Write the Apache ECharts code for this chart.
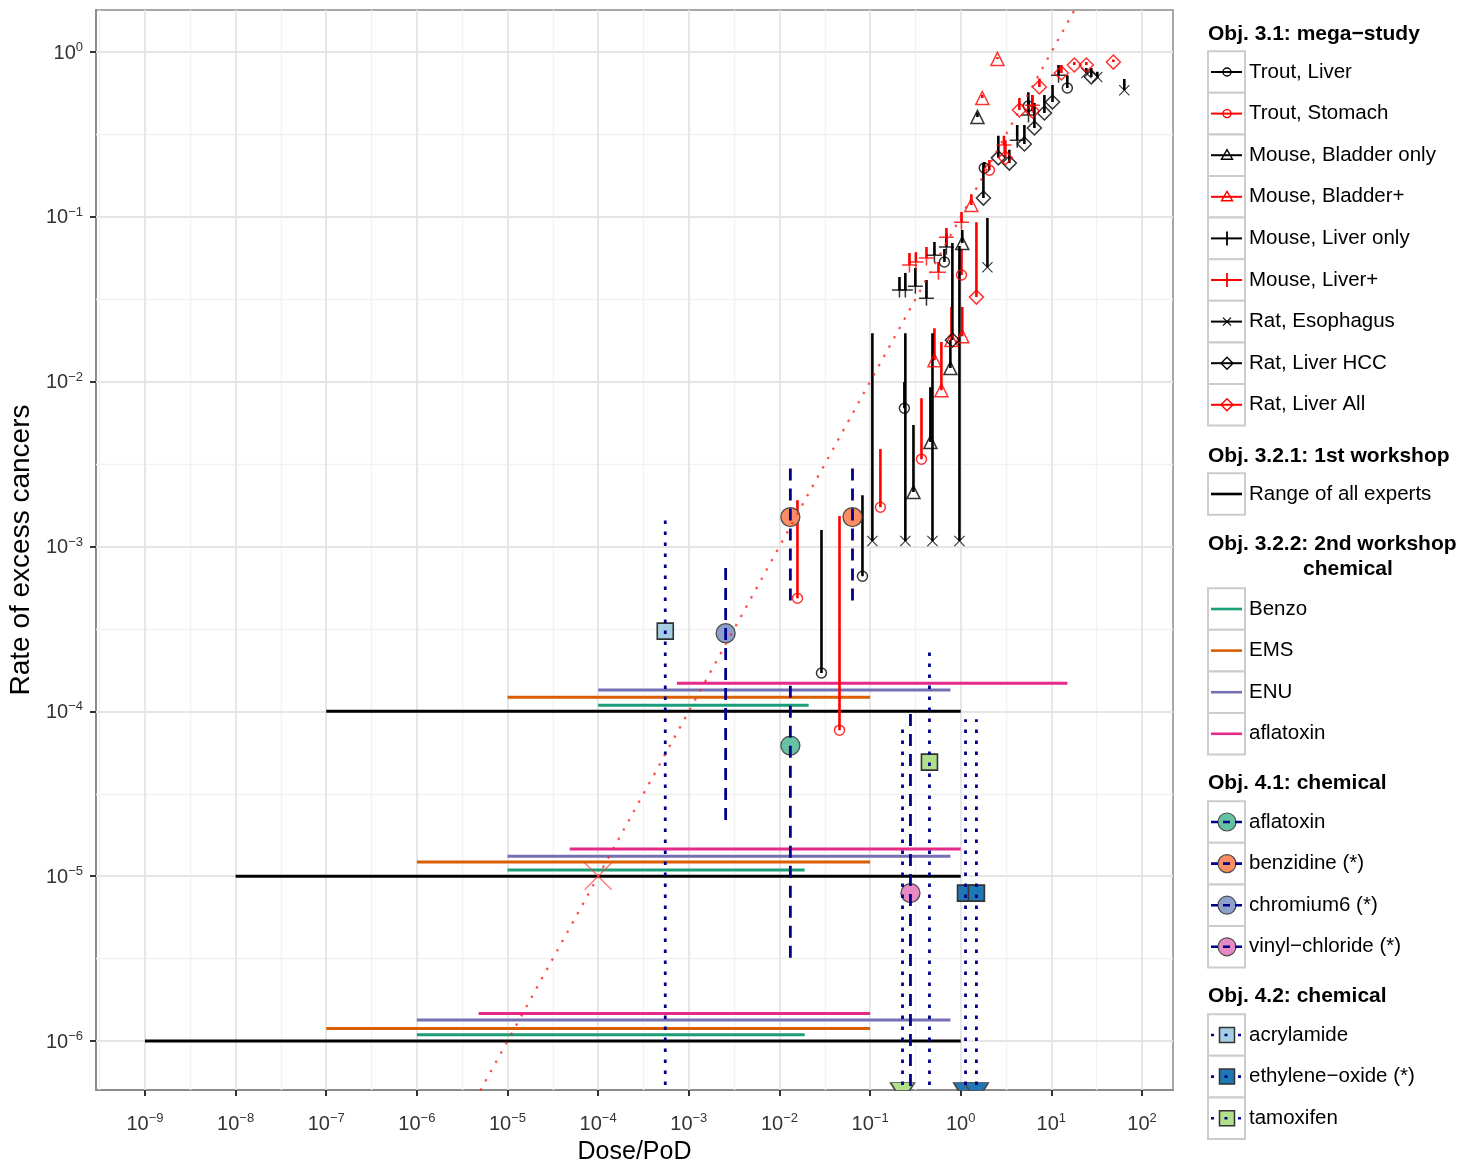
<!DOCTYPE html>
<html>
<head>
<meta charset="utf-8">
<title>Rate of excess cancers vs Dose/PoD</title>
<script src="https://cdn.jsdelivr.net/npm/echarts@6.0.0/dist/echarts.min.js"></script>
<style>
html,body{margin:0;padding:0;background:#ffffff;}
#chart{width:1460px;height:1163px;}
</style>
</head>
<body>
<div id="chart"></div>
<script>
// ---------------- tick labels (exponents of ten) ----------------
const xTickExponents = [-9, -8, -7, -6, -5, -4, -3, -2, -1, 0, 1, 2];
const yTickExponents = [-6, -5, -4, -3, -2, -1, 0];
const xMinorExponents = [-9.5, -8.5, -7.5, -6.5, -5.5, -4.5, -3.5, -2.5, -1.5, -0.5, 0.5, 1.5];
const yMinorExponents = [-5.5, -4.5, -3.5, -2.5, -1.5, -0.5];

// ---------------- Obj. 3.1: mega-study (dose, lower rate = marker, upper rate) ----------------
const troutLiverDose = [0.0291, 0.0824, 0.239, 0.661, 1.82, 5.57, 15.0];
const troutLiverLo   = [1.71e-4, 6.6e-4, 6.9e-3, 0.0532, 0.198, 0.470, 0.605];
const troutLiverHi   = [1.26e-3, 2.05e-3, 9.95e-3, 0.0638, 0.215, 0.571, 0.724];

const troutStomachDose = [0.0158, 0.046, 0.130, 0.369, 1.02, 2.07];
const troutStomachLo   = [4.86e-4, 7.69e-5, 1.73e-3, 3.39e-3, 0.0444, 0.192];
const troutStomachHi   = [1.91e-3, 1.53e-3, 3.9e-3, 7.94e-3, 0.0630, 0.221];

const mouseBladderDose = [0.301, 0.463, 0.769, 1.04, 1.53];
const mouseBladderLo   = [2.14e-3, 4.3e-3, 0.0121, 0.0693, 0.404];
const mouseBladderHi   = [5.46e-3, 9.27e-3, 0.0179, 0.0832, 0.43];

const mouseBladderPlusDose = [0.513, 0.612, 0.79, 1.04, 1.31, 1.73, 2.54];
const mouseBladderPlusLo   = [0.0135, 8.89e-3, 0.0179, 0.0189, 0.118, 0.526, 0.908];
const mouseBladderPlusHi   = [0.0211, 0.0174, 0.0284, 0.0284, 0.137, 0.55, 0.93];

const mouseLiverDose = [0.211, 0.245, 0.316, 0.419, 0.513, 0.695, 4.2, 5.6, 12.0];
const mouseLiverLo   = [0.036, 0.036, 0.038, 0.0321, 0.0586, 0.0656, 0.292, 0.415, 0.724];
const mouseLiverHi   = [0.0432, 0.0456, 0.0489, 0.0414, 0.0703, 0.0798, 0.361, 0.51, 0.834];

const mouseLiverPlusDose = [0.272, 0.32, 0.419, 0.568, 0.695, 1.02, 3.0, 6.17];
const mouseLiverPlusLo   = [0.0511, 0.0532, 0.0562, 0.0462, 0.0753, 0.0929, 0.273, 0.476];
const mouseLiverPlusHi   = [0.0603, 0.0611, 0.0656, 0.0532, 0.0855, 0.107, 0.31, 0.548];

const ratEsophagusDose = [0.106, 0.245, 0.488, 0.968, 1.97, 24.3, 32.1, 63.8];
const ratEsophagusLo   = [1.08e-3, 1.08e-3, 1.08e-3, 1.08e-3, 0.0495, 0.746, 0.705, 0.587];
const ratEsophagusHi   = [0.0197, 0.0197, 0.0197, 0.0665, 0.0984, 0.80, 0.76, 0.686];

const ratLiverHccDose = [0.809, 1.78, 2.6, 3.44, 5.04, 6.50, 8.38, 10.3, 27.6];
const ratLiverHccLo   = [0.0179, 0.130, 0.228, 0.212, 0.277, 0.346, 0.427, 0.498, 0.705];
const ratLiverHccHi   = [0.0693, 0.212, 0.31, 0.255, 0.361, 0.491, 0.548, 0.631, 0.80];

const ratLiverAllDose = [1.49, 3.11, 4.44, 6.17, 7.38, 12.9, 17.9, 24.3, 48.3];
const ratLiverAllLo   = [0.0326, 0.228, 0.445, 0.439, 0.614, 0.746, 0.834, 0.834, 0.869];
const ratLiverAllHi   = [0.0929, 0.292, 0.526, 0.548, 0.69, 0.834, 0.87, 0.87, 0.90];

// ---------------- Obj. 3.2.1: 1st workshop (range of all experts) ----------------
const expertRate   = [1e-4, 1e-5, 1e-6];
const expertDoseLo = [1e-7, 1e-8, 1e-9];
const expertDoseHi = [1, 1, 1];

// ---------------- Obj. 3.2.2: 2nd workshop ----------------
const benzoRate = [1.09e-4, 1.09e-5, 1.09e-6];
const benzoLo   = [1e-4, 1e-5, 1e-6];
const benzoHi   = [0.021, 0.019, 0.019];
const emsRate = [1.22e-4, 1.22e-5, 1.19e-6];
const emsLo   = [1e-5, 1e-6, 1e-7];
const emsHi   = [0.1, 0.1, 0.1];
const enuRate = [1.35e-4, 1.32e-5, 1.34e-6];
const enuLo   = [1e-4, 1e-5, 1e-6];
const enuHi   = [0.77, 0.77, 0.77];
const aflaWsRate = [1.48e-4, 1.46e-5, 1.47e-6];
const aflaWsLo   = [7.4e-4, 4.85e-5, 4.8e-6];
const aflaWsHi   = [15, 1, 0.1];

// ---------------- Obj. 4.1: chemical (point, range low, range high) ----------------
const BELOW = 1e-7; // range continues below the bottom of the axis
const aflatoxinDose = [0.0132];        const aflatoxinRate = [6.2e-5];
const aflatoxinLo = [3.2e-6];          const aflatoxinHi = [1.59e-4];
const benzidineDose = [0.0132, 0.064]; const benzidineRate = [1.51e-3, 1.51e-3];
const benzidineLo = [4.7e-4, 4.7e-4];  const benzidineHi = [3.03e-3, 3.03e-3];
const chromiumDose = [2.55e-3];        const chromiumRate = [2.98e-4];
const chromiumLo = [2.19e-5];          const chromiumHi = [7.4e-4];
const vinylDose = [0.279];             const vinylRate = [7.9e-6];
const vinylLo = [BELOW];               const vinylHi = [9.75e-5];

// ---------------- Obj. 4.2: chemical ----------------
const acrylamideDose = [5.5e-4];            const acrylamideRate = [3.07e-4];
const acrylamideLo = [BELOW];               const acrylamideHi = [1.53e-3];
const ethyleneDose = [1.13, 1.49];          const ethyleneRate = [7.9e-6, 7.9e-6];
const ethyleneLo = [BELOW, BELOW];          const ethyleneHi = [8.97e-5, 8.97e-5];
const ethyleneBelowDose = [1.13, 1.49];     // point estimates below the axis
const tamoxifenDose = [0.452];              const tamoxifenRate = [4.92e-5];
const tamoxifenRangeDose = [0.452, 0.228];
const tamoxifenLo = [BELOW, BELOW];         const tamoxifenHi = [2.49e-4, 7.8e-5];
const tamoxifenBelowDose = [0.228];

// ---------------- reference: rate = dose / 10 ----------------
const refLineDose = [5e-6, 100];
const refLineRate = [5e-7, 10];
const refPointDose = [1e-4];
const refPointRate = [1e-5];

// ======================================================================
const FONT = '"Liberation Sans", Arial, Helvetica, sans-serif';
const L = v => Math.log10(v);
const XMIN = -9.54, XMAX = 2.342, YMIN = -6.297, YMAX = 0.255;
const NAVY = '#00008B';

function vSegs(dose, lo, hi) {
  const out = [];
  dose.forEach((d, i) => { out.push([L(d), L(lo[i])], [L(d), L(hi[i])], [null, null]); });
  return out;
}
function hSegs(rate, lo, hi) {
  const out = [];
  rate.forEach((r, i) => { out.push([L(lo[i]), L(r)], [L(hi[i]), L(r)], [null, null]); });
  return out;
}
function pts(dose, rate) { return dose.map((d, i) => [L(d), L(rate[i])]); }

const PATH_PLUS = 'path://M9,0L11,0L11,9L20,9L20,11L11,11L11,20L9,20L9,11L0,11L0,9L9,9Z';
const PATH_X = 'path://M1.4,0L10,8.6L18.6,0L20,1.4L11.4,10L20,18.6L18.6,20L10,11.4L1.4,20L0,18.6L8.6,10L0,1.4Z';
const PATH_X_THIN = 'path://M0.7,0L10,9.3L19.3,0L20,0.7L10.7,10L20,19.3L19.3,20L10,10.7L0.7,20L0,19.3L9.3,10L0,0.7Z';
const PATH_TRAP = 'path://M0,0L24,0L19,8L5,8Z';

const megaStudies = [
  {name: 'Trout, Liver', color: '#000000', marker: 'circle', dose: troutLiverDose, lo: troutLiverLo, hi: troutLiverHi},
  {name: 'Trout, Stomach', color: '#FF0000', marker: 'circle', dose: troutStomachDose, lo: troutStomachLo, hi: troutStomachHi},
  {name: 'Mouse, Bladder only', color: '#000000', marker: 'triangle', dose: mouseBladderDose, lo: mouseBladderLo, hi: mouseBladderHi},
  {name: 'Mouse, Bladder+', color: '#FF0000', marker: 'triangle', dose: mouseBladderPlusDose, lo: mouseBladderPlusLo, hi: mouseBladderPlusHi},
  {name: 'Mouse, Liver only', color: '#000000', marker: 'plus', dose: mouseLiverDose, lo: mouseLiverLo, hi: mouseLiverHi},
  {name: 'Mouse, Liver+', color: '#FF0000', marker: 'plus', dose: mouseLiverPlusDose, lo: mouseLiverPlusLo, hi: mouseLiverPlusHi},
  {name: 'Rat, Esophagus', color: '#000000', marker: 'cross', dose: ratEsophagusDose, lo: ratEsophagusLo, hi: ratEsophagusHi},
  {name: 'Rat, Liver HCC', color: '#000000', marker: 'diamond', dose: ratLiverHccDose, lo: ratLiverHccLo, hi: ratLiverHccHi},
  {name: 'Rat, Liver All', color: '#FF0000', marker: 'diamond', dose: ratLiverAllDose, lo: ratLiverAllLo, hi: ratLiverAllHi}
];
const workshop2 = [
  {name: 'Benzo', color: '#1B9E77', rate: benzoRate, lo: benzoLo, hi: benzoHi},
  {name: 'EMS', color: '#D95F02', rate: emsRate, lo: emsLo, hi: emsHi},
  {name: 'ENU', color: '#7570B3', rate: enuRate, lo: enuLo, hi: enuHi},
  {name: 'aflatoxin', color: '#E7298A', rate: aflaWsRate, lo: aflaWsLo, hi: aflaWsHi}
];
const chem41 = [
  {name: 'aflatoxin', color: '#66C2A5', dose: aflatoxinDose, rate: aflatoxinRate, rdose: aflatoxinDose, lo: aflatoxinLo, hi: aflatoxinHi},
  {name: 'benzidine (*)', color: '#FC8D62', dose: benzidineDose, rate: benzidineRate, rdose: benzidineDose, lo: benzidineLo, hi: benzidineHi},
  {name: 'chromium6 (*)', color: '#8DA0CB', dose: chromiumDose, rate: chromiumRate, rdose: chromiumDose, lo: chromiumLo, hi: chromiumHi},
  {name: 'vinyl\u2212chloride (*)', color: '#E78AC3', dose: vinylDose, rate: vinylRate, rdose: vinylDose, lo: vinylLo, hi: vinylHi}
];
const chem42 = [
  {name: 'acrylamide', color: '#A6CEE3', dose: acrylamideDose, rate: acrylamideRate, rdose: acrylamideDose, lo: acrylamideLo, hi: acrylamideHi, below: []},
  {name: 'ethylene\u2212oxide (*)', color: '#1F78B4', dose: ethyleneDose, rate: ethyleneRate, rdose: ethyleneDose, lo: ethyleneLo, hi: ethyleneHi, below: ethyleneBelowDose},
  {name: 'tamoxifen', color: '#B2DF8A', dose: tamoxifenDose, rate: tamoxifenRate, rdose: tamoxifenRangeDose, lo: tamoxifenLo, hi: tamoxifenHi, below: tamoxifenBelowDose}
];

function markerStyle(m, color) {
  switch (m) {
    case 'circle': return {symbol: 'circle', symbolSize: 10, itemStyle: {color: 'rgba(0,0,0,0)', borderColor: color, borderWidth: 1.5}};
    case 'triangle': return {symbol: 'triangle', symbolSize: 13, itemStyle: {color: 'rgba(0,0,0,0)', borderColor: color, borderWidth: 1.5}};
    case 'diamond': return {symbol: 'diamond', symbolSize: 14, itemStyle: {color: 'rgba(0,0,0,0)', borderColor: color, borderWidth: 1.5}};
    case 'plus': return {symbol: PATH_PLUS, symbolSize: 15, itemStyle: {color: color}};
    case 'cross': return {symbol: PATH_X, symbolSize: 11, itemStyle: {color: color}};
  }
}

const series = [];
// grid lines drawn from tick arrays (via markLine on the expert range series)
const gridMarks = [];
xMinorExponents.forEach(v => gridMarks.push({xAxis: v, lineStyle: {color: '#F2F2F2', width: 1.3, type: 'solid'}}));
yMinorExponents.forEach(v => gridMarks.push({yAxis: v, lineStyle: {color: '#F2F2F2', width: 1.3, type: 'solid'}}));
xTickExponents.forEach(v => gridMarks.push({xAxis: v, lineStyle: {color: '#E5E5E5', width: 1.8, type: 'solid'}}));
yTickExponents.forEach(v => gridMarks.push({yAxis: v, lineStyle: {color: '#E5E5E5', width: 1.8, type: 'solid'}}));

series.push({
  name: 'Range of all experts', type: 'line', z: 2, silent: true, symbol: 'none', connectNulls: false,
  data: hSegs(expertRate, expertDoseLo, expertDoseHi),
  lineStyle: {color: '#000000', width: 3},
  markLine: {silent: true, z: 1, symbol: 'none', label: {show: false}, animation: false, emphasis: {disabled: true}, data: gridMarks}
});
workshop2.forEach(w => series.push({
  name: w.name, type: 'line', z: 2, silent: true, symbol: 'none',
  data: hSegs(w.rate, w.lo, w.hi), lineStyle: {color: w.color, width: 3}
}));
megaStudies.forEach(s => series.push({
  name: s.name, type: 'line', z: 3, silent: true, symbol: 'none',
  data: vSegs(s.dose, s.lo, s.hi), lineStyle: {color: s.color, width: 2.6}
}));
megaStudies.forEach(s => series.push(Object.assign({
  name: s.name, type: 'scatter', z: 3, silent: true, data: pts(s.dose, s.lo)
}, markerStyle(s.marker, s.color))));
chem41.forEach(c => series.push({
  name: c.name, type: 'scatter', z: 4, silent: true, symbol: 'circle', symbolSize: 19,
  itemStyle: {color: c.color, borderColor: '#4D4D4D', borderWidth: 1.3, opacity: 1},
  data: pts(c.dose, c.rate)
}));
chem42.forEach(c => {
  series.push({
    name: c.name, type: 'scatter', z: 4, silent: true, symbol: 'rect', symbolSize: 16,
    itemStyle: {color: c.color, borderColor: '#333333', borderWidth: 1.6, opacity: 1},
    data: pts(c.dose, c.rate)
  });
  if (c.below.length) series.push({
    name: c.name, type: 'scatter', z: 4, silent: true, symbol: PATH_TRAP, symbolSize: [24, 8], symbolKeepAspect: false,
    itemStyle: {color: c.color, borderColor: '#4D4D4D', borderWidth: 1.2, opacity: 1},
    data: c.below.map(d => [L(d), YMIN + 0.021])
  });
});
chem41.forEach(c => series.push({
  name: c.name, type: 'line', z: 5, silent: true, symbol: 'none',
  data: vSegs(c.rdose, c.lo, c.hi), lineStyle: {color: NAVY, width: 2.8, type: [12, 8], cap: 'butt'}
}));
chem42.forEach(c => series.push({
  name: c.name, type: 'line', z: 5, silent: true, symbol: 'none',
  data: vSegs(c.rdose, c.lo, c.hi), lineStyle: {color: NAVY, width: 2.8, type: [3.5, 7.5], cap: 'butt'}
}));
series.push({
  name: 'rate = dose/10', type: 'line', z: 6, silent: true, symbol: 'none',
  data: pts(refLineDose, refLineRate), lineStyle: {color: 'rgba(255,30,30,0.8)', width: 2.2, type: [2.4, 8.2], cap: 'butt'}
});
series.push({
  name: 'reference point', type: 'scatter', z: 6, silent: true, symbol: PATH_X_THIN, symbolSize: 28,
  itemStyle: {color: 'rgba(255,60,60,0.85)'}, data: pts(refPointDose, refPointRate)
});

// ---------------- axis labels ----------------
function powLabel(v) {
  const e = Math.round(v);
  if (Math.abs(v - e) > 1e-6) return '';
  return '{b|10}{s|' + (e < 0 ? '\u2212' + (-e) : String(e)) + '}';
}
const tickRich = {
  b: {fontSize: 20, fontFamily: FONT, color: '#333333', lineHeight: 22, padding: [8, 0, 0, 0], verticalAlign: 'bottom'},
  s: {fontSize: 13, fontFamily: FONT, color: '#333333', lineHeight: 14, verticalAlign: 'top'}
};

// ---------------- legend (graphic) ----------------
const gfx = [];
const KX = 1208, KW = 37, KH = 41.6, TX = 1249, MX = 1227;
function title(text, x, y) {
  gfx.push({type: 'text', x: x, y: y, silent: true, z: 100,
    style: {text: text, fontSize: 21, fontWeight: 'bold', fontFamily: FONT, fill: '#000000', verticalAlign: 'middle', align: 'left'}});
}
function keyBox(cy) {
  gfx.push({type: 'rect', silent: true, z: 100, shape: {x: KX, y: cy - KH / 2, width: KW, height: KH},
    style: {fill: '#ffffff', stroke: '#CCCCCC', lineWidth: 2}});
}
function label(text, cy) {
  gfx.push({type: 'text', x: TX, y: cy, silent: true, z: 102,
    style: {text: text, fontSize: 20.5, fontFamily: FONT, fill: '#000000', verticalAlign: 'middle', align: 'left'}});
}
function hline(cy, color, width, dash) {
  gfx.push({type: 'line', silent: true, z: 102, shape: {x1: 1211, y1: cy, x2: 1242, y2: cy},
    style: {stroke: color, lineWidth: width, lineDash: dash || null}});
}
function megaMarker(m, cy, color) {
  const st = {fill: 'none', stroke: color, lineWidth: 1.4};
  if (m === 'circle') gfx.push({type: 'circle', silent: true, z: 101, shape: {cx: MX, cy: cy, r: 4}, style: st});
  if (m === 'triangle') gfx.push({type: 'polygon', silent: true, z: 101, shape: {points: [[MX, cy - 5.5], [MX + 5.5, cy + 4], [MX - 5.5, cy + 4]]}, style: st});
  if (m === 'diamond') gfx.push({type: 'polygon', silent: true, z: 101, shape: {points: [[MX, cy - 6], [MX + 6, cy], [MX, cy + 6], [MX - 6, cy]]}, style: st});
  if (m === 'plus') gfx.push({type: 'line', silent: true, z: 101, shape: {x1: MX, y1: cy - 7, x2: MX, y2: cy + 7}, style: {stroke: color, lineWidth: 1.8}});
  if (m === 'cross') {
    gfx.push({type: 'line', silent: true, z: 101, shape: {x1: MX - 4, y1: cy - 4, x2: MX + 4, y2: cy + 4}, style: {stroke: color, lineWidth: 1.3}});
    gfx.push({type: 'line', silent: true, z: 101, shape: {x1: MX - 4, y1: cy + 4, x2: MX + 4, y2: cy - 4}, style: {stroke: color, lineWidth: 1.3}});
  }
}
// group 3.1
title('Obj. 3.1: mega\u2212study', 1208, 34);
megaStudies.forEach((s, i) => {
  const cy = 72 + i * KH;
  keyBox(cy); hline(cy, s.color, 2); megaMarker(s.marker, cy, s.color); label(s.name, cy);
});
// group 3.2.1
title('Obj. 3.2.1: 1st workshop', 1208, 456);
keyBox(494); hline(494, '#000000', 2.6); label('Range of all experts', 494);
// group 3.2.2
title('Obj. 3.2.2: 2nd workshop', 1208, 544);
title('chemical', 1303, 569);
workshop2.forEach((w, i) => { const cy = 609 + i * KH; keyBox(cy); hline(cy, w.color, 2.6); label(w.name, cy); });
// group 4.1
title('Obj. 4.1: chemical', 1208, 783);
chem41.forEach((c, i) => {
  const cy = 822 + i * KH; keyBox(cy);
  gfx.push({type: 'circle', silent: true, z: 101, shape: {cx: MX, cy: cy, r: 9}, style: {fill: c.color, stroke: '#4D4D4D', lineWidth: 1.2}});
  hline(cy, NAVY, 2.6, [7, 5]);
  label(c.name, cy);
});
// group 4.2
title('Obj. 4.2: chemical', 1208, 996);
chem42.forEach((c, i) => {
  const cy = 1035 + i * KH; keyBox(cy);
  gfx.push({type: 'rect', silent: true, z: 101, shape: {x: MX - 7.5, y: cy - 7.5, width: 15, height: 15}, style: {fill: c.color, stroke: '#333333', lineWidth: 1.5}});
  hline(cy, NAVY, 2.6, [3, 10.5]);
  label(c.name, cy);
});

// ======================================================================
const chart = echarts.init(document.getElementById('chart'), null, {renderer: 'canvas'});
chart.setOption({
  animation: false,
  backgroundColor: '#ffffff',
  grid: {left: 96, top: 10, width: 1077, height: 1080, show: true, backgroundColor: '#ffffff',
         borderColor: '#8C8C8C', borderWidth: 1.5, containLabel: false, outerBoundsMode: 'none'},
  xAxis: {
    type: 'value', min: XMIN, max: XMAX,
    name: 'Dose/PoD', nameLocation: 'middle', nameGap: 50,
    nameTextStyle: {fontSize: 25, fontFamily: FONT, color: '#000000'},
    axisLine: {show: true, onZero: false, lineStyle: {color: '#8C8C8C', width: 2}},
    axisTick: {show: true, inside: false, length: 6, customValues: xTickExponents, lineStyle: {color: '#333333', width: 2}},
    axisLabel: {show: true, customValues: xTickExponents, margin: 22, formatter: powLabel, rich: tickRich, hideOverlap: false},
    splitLine: {show: false}, minorSplitLine: {show: false}
  },
  yAxis: {
    type: 'value', min: YMIN, max: YMAX,
    name: 'Rate of excess cancers', nameLocation: 'middle', nameGap: 58, nameRotate: 90,
    nameTextStyle: {fontSize: 28, fontFamily: FONT, color: '#000000'},
    axisLine: {show: true, onZero: false, lineStyle: {color: '#8C8C8C', width: 2}},
    axisTick: {show: true, inside: false, length: 6, customValues: yTickExponents, lineStyle: {color: '#333333', width: 2}},
    axisLabel: {show: true, customValues: yTickExponents, margin: 13, formatter: powLabel, rich: tickRich, hideOverlap: false},
    splitLine: {show: false}, minorSplitLine: {show: false}
  },
  tooltip: {show: false},
  legend: {show: false},
  series: series,
  graphic: {elements: gfx}
});
</script>
</body>
</html>
